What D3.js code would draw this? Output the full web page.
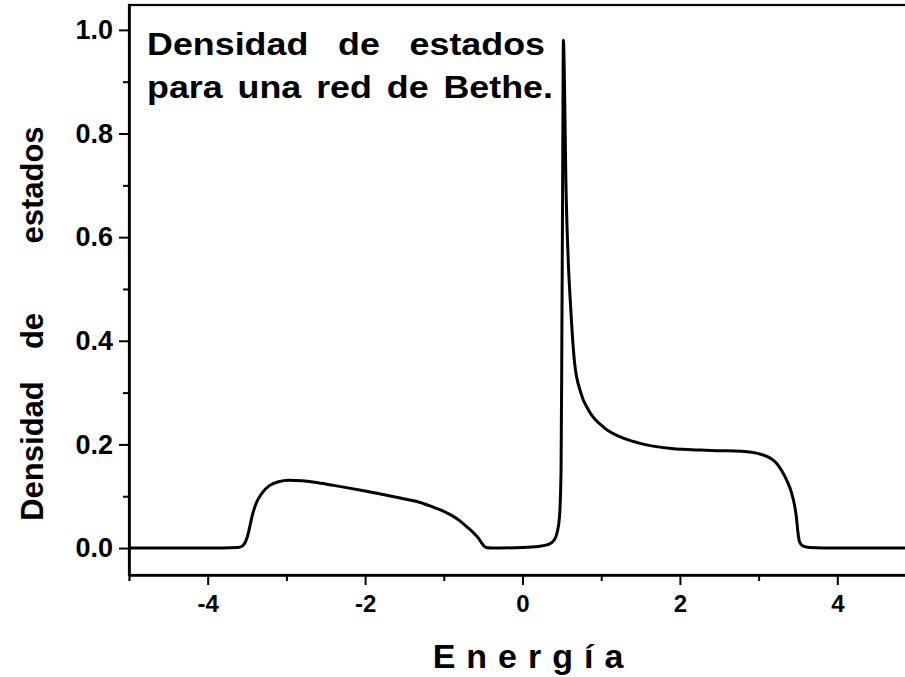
<!DOCTYPE html>
<html>
<head>
<meta charset="utf-8">
<script src="https://cdn.jsdelivr.net/npm/d3@7"></script>
<style>
  html, body { margin: 0; padding: 0; background: #fff; }
  svg { display: block; }
  text { font-family: "Liberation Sans", Arial, Helvetica, sans-serif; font-weight: bold; fill: #000; }
</style>
</head>
<body>
<svg id="chart" width="905" height="677"></svg>
<script>
// Density of states on a Bethe lattice: energy vs. density samples
const energy = [
  -5.0, -4.0, -3.62, -3.56, -3.52, -3.49, -3.46, -3.43, -3.38, -3.30, -3.22, -3.10,
  -2.97, -2.80, -2.60, -2.40, -2.00, -1.54, -1.30, -1.12, -1.00, -0.90, -0.80, -0.70,
  -0.62, -0.56, -0.52, -0.49, -0.46, -0.40, 0.00, 0.20, 0.33, 0.40, 0.44, 0.47, 0.49,
  0.50, 0.51, 0.52, 0.535, 0.55, 0.58, 0.61, 0.66, 0.74, 0.84, 1.04, 1.25, 1.47, 1.89,
  2.27, 2.53, 2.91, 3.05, 3.12, 3.22, 3.29, 3.36, 3.42, 3.46, 3.48, 3.50, 3.52, 3.56,
  3.65, 4.0, 5.0
];
const density = [
  0.000, 0.000, 0.001, 0.004, 0.012, 0.025, 0.045, 0.065, 0.088, 0.108, 0.120, 0.128,
  0.131, 0.130, 0.126, 0.121, 0.110, 0.096, 0.088, 0.078, 0.071, 0.063, 0.053, 0.040,
  0.029, 0.019, 0.010, 0.004, 0.001, 0.000, 0.001, 0.003, 0.007, 0.015, 0.030, 0.060, 0.150,
  0.400, 0.700, 0.980, 0.880, 0.720, 0.560, 0.470, 0.360, 0.300, 0.266, 0.232, 0.214, 0.203, 0.192,
  0.189, 0.188, 0.185, 0.180, 0.176, 0.165, 0.150, 0.130, 0.106, 0.080, 0.060, 0.030, 0.012, 0.004,
  0.001, 0.000, 0.000
];

const xMajorTicks = [-4, -2, 0, 2, 4];
const xMinorTicks = [-3, -1, 1, 3];
const yMajorTicks = [0.0, 0.2, 0.4, 0.6, 0.8, 1.0];
const yMinorTicks = [0.1, 0.3, 0.5, 0.7, 0.9];

const titleLines = [["Densidad", "de", "estados"], ["para", "una", "red", "de", "Bethe."]];
const yLabelWords = ["Densidad", "de", "estados"];
const xLabel = "Energía";

const svg = d3.select("#chart");

const x = d3.scaleLinear().domain([-5, 5]).range([129, 916]);
const y = d3.scaleLinear().domain([-0.052, 1.048]).range([575, 5]);

// frame (right side runs past the visible area)
svg.append("rect")
  .attr("x", x(-5)).attr("y", y(1.048))
  .attr("width", x(5) - x(-5)).attr("height", y(-0.052) - y(1.048))
  .attr("fill", "none").attr("stroke", "#000").attr("stroke-width", 2.2);

// Y axis
const yAxisG = svg.append("g").attr("transform", `translate(${x(-5)},0)`);
yAxisG.call(d3.axisLeft(y).tickValues(yMajorTicks).tickFormat(d3.format(".1f"))
  .tickSize(10).tickSizeOuter(0).tickPadding(6));
yAxisG.append("g").call(d3.axisLeft(y).tickValues(yMinorTicks).tickFormat("").tickSize(6).tickSizeOuter(0));
yAxisG.selectAll("text").style("font-size", "27px");

// X axis
const xAxisG = svg.append("g").attr("transform", `translate(0,${y(-0.052)})`);
xAxisG.call(d3.axisBottom(x).tickValues(xMajorTicks).tickFormat(d => d < 0 ? "-" + Math.abs(d) : String(d))
  .tickSize(10).tickSizeOuter(6).tickPadding(10));
xAxisG.append("g").call(d3.axisBottom(x).tickValues(xMinorTicks).tickFormat("").tickSize(6).tickSizeOuter(0));
xAxisG.selectAll("text").style("font-size", "24px");

svg.selectAll(".domain").attr("stroke-width", 2.2);
svg.selectAll(".tick line").attr("stroke-width", 2);

// density curve
const pts = energy.map((e, i) => [e, density[i]]);
svg.append("path")
  .datum(pts)
  .attr("fill", "none")
  .attr("stroke", "#000")
  .attr("stroke-width", 3)
  .attr("stroke-linejoin", "round")
  .attr("d", d3.line().x(d => x(d[0])).y(d => y(d[1])).curve(d3.curveMonotoneX));

// justified two-line title inside the plot (slightly widened lettering)
const titleStretch = 1.12;
const titleBox = [{ left: 147, right: 545, base: 55 }, { left: 147, right: 553, base: 98 }];
titleLines.forEach((words, li) => {
  const box = titleBox[li];
  const nodes = words.map(w => svg.append("text").style("font-size", "32px").text(w));
  const widths = nodes.map(n => n.node().getComputedTextLength() * titleStretch);
  const gap = (box.right - box.left - d3.sum(widths)) / (words.length - 1);
  let cx = box.left;
  nodes.forEach((n, i) => {
    n.attr("transform", `translate(${cx},${box.base}) scale(${titleStretch},1)`);
    cx += widths[i] + gap;
  });
});

// rotated y-axis label, words spread along the axis
const yLabelCenters = [451, 331, 185];
yLabelWords.forEach((w, i) => {
  svg.append("text")
    .attr("transform", `translate(43,${yLabelCenters[i]}) rotate(-90)`)
    .attr("text-anchor", "middle")
    .style("font-size", "31px")
    .text(w);
});

// letter-spaced x-axis label
const spacing = 11;
svg.append("text")
  .attr("x", 528 + spacing / 2).attr("y", 668)
  .attr("text-anchor", "middle")
  .style("font-size", "34px")
  .style("letter-spacing", spacing + "px")
  .text(xLabel);
</script>
</body>
</html>
